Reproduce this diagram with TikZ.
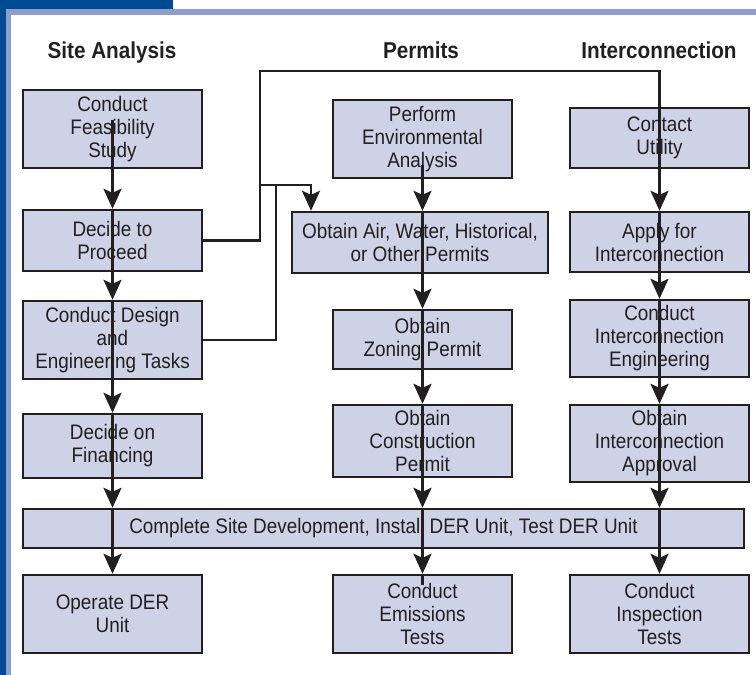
\documentclass[tikz,border=0pt]{standalone}
\usepackage{fontspec}
\setmainfont{Liberation Sans}[FakeStretch=0.9]
\usetikzlibrary{arrows.meta}
\definecolor{boxc}{RGB}{205,210,230}
\definecolor{linec}{RGB}{35,31,32}
\definecolor{darkblue}{RGB}{0,74,147}
\definecolor{lightblue}{RGB}{142,158,203}
\tikzset{
  box/.style={draw=linec, fill=boxc, line width=2.4pt, align=center, inner sep=0pt,
    font=\fontsize{21}{23}\selectfont, text=linec},
  colbox/.style={box, minimum width=179pt},
  head/.style={font=\fontsize{23}{26}\selectfont\bfseries, text=linec, anchor=base, inner sep=0pt},
  conn/.style={draw=linec, line width=2.4pt},
  arr/.style={conn, -{Stealth[length=20pt, width=18pt, inset=4pt]}},
}
\begin{document}
\begin{tikzpicture}[x=1pt, y=-1pt]
\useasboundingbox (0,0) rectangle (756,675);
% frame
\fill[lightblue] (6,9) rectangle (756,15);
\fill[lightblue] (6,9) rectangle (11,675);
\fill[darkblue] (0,0) rectangle (173,9);
\fill[darkblue] (0,0) rectangle (6,675);
% headings
\node[head] (h1) at (112,58) {Site Analysis};
\node[head] (h2) at (421,58) {Permits};
\node[head] (h3) at (659,58) {Interconnection};
% column 1
\node[colbox, minimum height=78pt] (feas) at (112.5,129) {Conduct\\Feasibility\\Study};
\node[colbox, minimum height=61pt] (proceed) at (112.5,240.5) {Decide to\\Proceed};
\node[colbox, minimum height=78pt] (design) at (112.5,340) {Conduct Design\\and\\Engineering Tasks};
\node[colbox, minimum height=64pt] (fin) at (112.5,446) {Decide on\\Financing};
\node[colbox, minimum height=78pt] (operate) at (112.5,614) {Operate DER\\Unit};
% column 2
\node[colbox, minimum height=78pt] (env) at (422.5,139) {Perform\\Environmental\\Analysis};
\node[box, minimum width=256pt, minimum height=61pt] (air) at (420,242.5) {Obtain Air, Water, Historical,\\or Other Permits};
\node[colbox, minimum height=59pt] (zoning) at (422.5,339.5) {Obtain\\Zoning Permit};
\node[colbox, minimum height=72pt] (constr) at (422.5,441) {Obtain\\Construction\\Permit};
\node[colbox, minimum height=78pt] (emis) at (422.5,614) {Conduct\\Emissions\\Tests};
% column 3
\node[colbox, minimum height=60pt] (contact) at (659.5,138) {Contact\\Utility};
\node[colbox, minimum height=60pt] (apply) at (659.5,242) {Apply for\\Interconnection};
\node[colbox, minimum height=77pt] (eng) at (659.5,338.5) {Conduct\\Interconnection\\Engineering};
\node[colbox, minimum height=77pt] (appr) at (659.5,443.5) {Obtain\\Interconnection\\Approval};
\node[colbox, minimum height=78pt] (insp) at (659.5,614) {Conduct\\Inspection\\Tests};
% bar
\node[box, minimum width=721pt, minimum height=39pt] (bar) at (383.5,528.5) {Complete Site Development, Install DER Unit, Test DER Unit};
% coordinates
\coordinate (c1s) at (112.5,120);
\coordinate (c2s) at (422.5,165);
\coordinate (fbA) at (260,240.5);
\coordinate (fbB) at (260,71);
\coordinate (fbC) at (659.5,71);
\coordinate (jn) at (260,185);
\coordinate (airin) at (311,185);
\coordinate (dsB) at (276,340);
\coordinate (dsC) at (276,185);
\coordinate (emisend) at (422.5,585);
% column 1 flow
\draw[arr] (c1s) -- (proceed.north);
\draw[arr] (proceed.north) -- (design.north);
\draw[arr] (design.north) -- (fin.north);
\draw[arr] (fin.north) -- (bar.north -| fin.north);
\draw[arr] (bar.north -| fin.north) -- (operate.north);
% column 2 flow
\draw[arr] (c2s) -- (air.north -| env.north);
\draw[arr] (air.north -| env.north) -- (zoning.north);
\draw[arr] (zoning.north) -- (constr.north);
\draw[arr] (constr.north) -- (bar.north -| constr.north);
\draw[arr] (bar.north -| constr.north) -- (emis.north);
\draw[conn] (emis.north) -- (emisend);
% feedback routes
\draw[arr] (proceed.east) -- (fbA) -- (fbB) -- (fbC) -- (apply.north);
\draw[arr] (jn) -- (airin) -- (air.north -| airin);
\draw[conn] (design.east) -- (dsB) -- (dsC);
% column 3 flow
\draw[arr] (apply.north) -- (eng.north);
\draw[arr] (eng.north) -- (appr.north);
\draw[arr] (appr.north) -- (bar.north -| appr.north);
\draw[arr] (bar.north -| appr.north) -- (insp.north);
\end{tikzpicture}
\end{document}
